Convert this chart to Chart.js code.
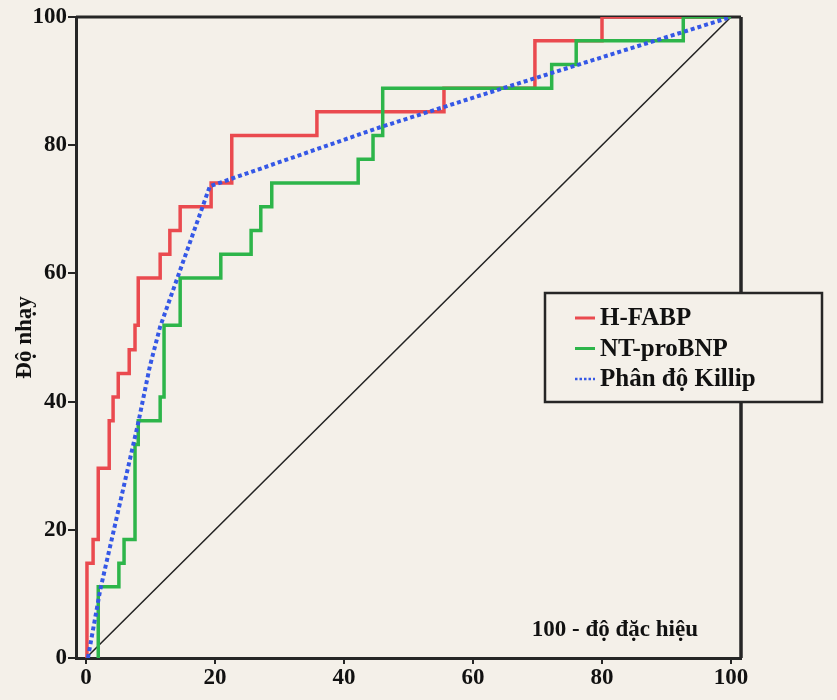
<!DOCTYPE html>
<html>
<head>
<meta charset="utf-8">
<script src="https://cdn.jsdelivr.net/npm/chart.js@4.4.1/dist/chart.umd.min.js"></script>
<style>
  html,body{margin:0;padding:0;background:#f4f0e9;}
  #wrap{width:837px;height:700px;position:relative;}
</style>
</head>
<body>
<div id="wrap"><canvas id="chart"></canvas></div>
<script>
// ROC points: x = 100 - specificity, y = sensitivity
const hfabpX = [0.15, 1.1, 1.9, 3.6, 4.2, 5.0, 6.7, 7.6, 8.1, 11.5, 13.0, 14.6, 19.4, 22.6, 35.8, 55.5, 69.6, 80.0, 100];
const hfabpY = [0, 14.8, 18.5, 29.6, 37.0, 40.7, 44.4, 48.1, 51.9, 59.3, 63.0, 66.7, 70.4, 74.1, 81.5, 85.2, 88.9, 96.3, 100];

const ntX = [1.9, 5.1, 5.9, 7.6, 8.1, 11.5, 12.1, 14.6, 20.9, 25.6, 27.1, 28.8, 42.2, 44.5, 46.0, 72.2, 76.0, 92.6, 100];
const ntY = [0, 11.1, 14.8, 18.5, 33.3, 37.0, 40.7, 51.9, 59.3, 63.0, 66.7, 70.4, 74.1, 77.8, 81.5, 88.9, 92.6, 96.3, 100];

const killipX = [0.3, 2.2, 8.1, 9.9, 11.5, 14.1, 19.2, 45.6, 64.2, 100];
const killipY = [0, 10.6, 36.7, 45.5, 51.7, 59.1, 73.6, 82.8, 88.75, 100];

const refX = [0, 100];
const refY = [0, 100];

const X_TICKS = [0, 20, 40, 60, 80, 100];
const Y_TICKS = [0, 20, 40, 60, 80, 100];

const LABELS = ["H-FABP", "NT-proBNP", "Phân độ Killip"];
const X_TITLE = "100 - độ đặc hiệu";
const Y_TITLE = "Độ nhạy";

const BG = "#f4f0e9";
const INK = "#262626";
const SERIF = "'Liberation Serif','Times New Roman',serif";

const pts = (xs, ys) => xs.map((x, i) => ({x, y: ys[i]}));

const framePlugin = {
  id: "frame",
  beforeDatasetsDraw(chart){
    const {ctx, chartArea:a} = chart;
    ctx.save();
    ctx.strokeStyle = INK;
    ctx.lineWidth = 3;
    ctx.beginPath();
    ctx.moveTo(a.left, a.top);
    ctx.lineTo(a.right, a.top);
    ctx.stroke();
    ctx.lineWidth = 3.5;
    ctx.beginPath();
    ctx.moveTo(a.right, a.top);
    ctx.lineTo(a.right, a.bottom);
    ctx.stroke();
    ctx.restore();
  },
  afterDatasetsDraw(chart){
    const {ctx, chartArea:a} = chart;
    ctx.save();
    ctx.font = "bold 23px " + SERIF;
    ctx.fillStyle = "#111";
    ctx.textAlign = "right";
    ctx.textBaseline = "alphabetic";
    ctx.fillText(X_TITLE, a.right - 43, a.bottom - 22);
    ctx.restore();
  }
};

const legendPlugin = {
  id: "boxLegend",
  afterDraw(chart){
    const ctx = chart.ctx;
    const x0 = 545, y0 = 293, w = 277, h = 109;
    ctx.save();
    ctx.fillStyle = BG;
    ctx.fillRect(x0, y0, w, h);
    ctx.strokeStyle = INK;
    ctx.lineWidth = 2.5;
    ctx.strokeRect(x0, y0, w, h);
    ctx.font = "bold 25px " + SERIF;
    ctx.textBaseline = "middle";
    ctx.fillStyle = "#111";
    chart.data.datasets.filter(d => d.inLegend).forEach((d, i) => {
      const y = y0 + 25 + i * 30.5;
      ctx.strokeStyle = d.borderColor;
      ctx.lineWidth = d.borderDash ? 2.5 : 3;
      ctx.setLineDash(d.borderDash ? [2.5, 2] : []);
      ctx.beginPath();
      ctx.moveTo(x0 + 30, y);
      ctx.lineTo(x0 + 50, y);
      ctx.stroke();
      ctx.setLineDash([]);
      ctx.fillText(d.label, x0 + 55, y + 1);
    });
    ctx.restore();
  }
};

const tickFont = {family: SERIF, size: 23, weight: "bold"};

new Chart(document.getElementById("chart"), {
  type: "scatter",
  data: {
    datasets: [
      {label: LABELS[0], inLegend: true, data: pts(hfabpX, hfabpY), showLine: true, stepped: "after",
       borderColor: "#ea4a4f", borderWidth: 3.5, pointRadius: 0, order: 2},
      {label: LABELS[1], inLegend: true, data: pts(ntX, ntY), showLine: true, stepped: "after",
       borderColor: "#2db54a", borderWidth: 3.5, pointRadius: 0, order: 1},
      {label: LABELS[2], inLegend: true, data: pts(killipX, killipY), showLine: true,
       borderColor: "#3558e6", borderWidth: 4, borderDash: [4, 3], pointRadius: 0, order: 0},
      {label: "ref", data: pts(refX, refY), showLine: true,
       borderColor: "#222", borderWidth: 1.5, pointRadius: 0, order: 3}
    ]
  },
  options: {
    responsive: true,
    maintainAspectRatio: false,
    animation: false,
    layout: {padding: {top: 17, right: 96, bottom: 0, left: 0}},
    plugins: {legend: {display: false}, tooltip: {enabled: false}},
    scales: {
      x: {
        type: "linear", min: -1.55, max: 101.55,
        afterBuildTicks: s => { s.ticks = X_TICKS.map(v => ({value: v})); },
        afterFit: s => { s.height = 42; },
        grid: {drawOnChartArea: false, drawTicks: true, tickLength: 6, color: INK, lineWidth: 2},
        border: {display: true, color: INK, width: 3},
        ticks: {font: tickFont, color: "#111", padding: 0, maxRotation: 0}
      },
      y: {
        type: "linear", min: 0, max: 100,
        afterBuildTicks: s => { s.ticks = Y_TICKS.map(v => ({value: v})); },
        afterFit: s => { s.width = 76; },
        grid: {drawOnChartArea: false, drawTicks: true, tickLength: 8, color: INK, lineWidth: 2},
        border: {display: true, color: INK, width: 3},
        ticks: {font: tickFont, color: "#111", padding: 1},
        title: {display: true, text: Y_TITLE, color: "#111", padding: {top: 11, bottom: 0},
                font: {family: SERIF, size: 23, weight: "bold"}}
      }
    }
  },
  plugins: [framePlugin, legendPlugin]
});
</script>
</body>
</html>
